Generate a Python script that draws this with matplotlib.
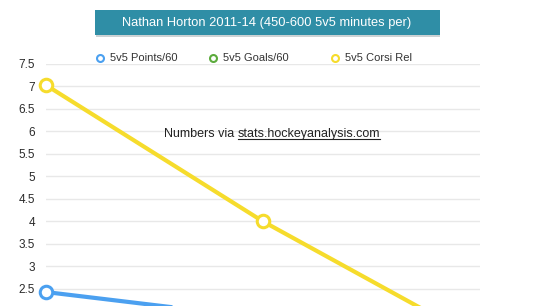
import matplotlib
matplotlib.use('Agg')
import matplotlib.pyplot as plt
from matplotlib.patches import FancyBboxPatch
from matplotlib.lines import Line2D

plt.rcParams['font.family'] = ['Liberation Sans', 'DejaVu Sans']

seasons = ['2011-12', '2012-13', '2013-14']
points_60 = [2.43, 1.85]
corsi_rel = [7.03, 4.0, 1.35]
series_names = ['5v5 Points/60', '5v5 Goals/60', '5v5 Corsi Rel']
y_ticks = [2.5, 3, 3.5, 4, 4.5, 5, 5.5, 6, 6.5, 7, 7.5]

blue = '#4ba0f0'
green = '#5cab3c'
yellow = '#f6dc2c'

W, H = 544, 306
fig = plt.figure(figsize=(W / 100, H / 100), dpi=100)
ax = fig.add_axes([46 / W, 0, 434 / W, 242 / H])

x = list(range(len(seasons)))
ax.plot(x[:len(points_60)], points_60, color=blue, lw=3, marker='o', ms=9,
        mfc='white', mec=blue, mew=2.2, clip_on=False, zorder=3)
ax.plot(x, corsi_rel, color=yellow, lw=3, marker='o', ms=9,
        mfc='white', mec=yellow, mew=2.2, clip_on=False, zorder=3)

ax.set_xlim(0, 2)
ax.set_ylim(2.12, 7.5)
ax.set_yticks(y_ticks)
ax.set_yticklabels([f'{t:g}' for t in y_ticks])
ax.set_xticks([])
ax.grid(axis='y', color='#e8e8e8', lw=1)
ax.set_axisbelow(True)
for s in ax.spines.values():
    s.set_visible(False)
ax.tick_params(axis='y', length=0, pad=8, labelsize=8.5, labelcolor='#2a2a2a')

# title box with a small shadow
fig.patches.append(FancyBboxPatch((96 / W, 1 - 37 / H), 344 / W, 25 / H,
                                  boxstyle='square,pad=0', transform=fig.transFigure,
                                  fc='#9aa6aa', ec='none', alpha=0.5, zorder=1))
fig.patches.append(FancyBboxPatch((95 / W, 1 - 35 / H), 345 / W, 25 / H,
                                  boxstyle='square,pad=0', transform=fig.transFigure,
                                  fc='#2f8ea6', ec='none', zorder=2))
fig.text(267 / W, 1 - 23 / H, 'Nathan Horton 2011-14 (450-600 5v5 minutes per)',
         color='white', fontsize=9.3, ha='center', va='center', zorder=3)

# legend, one entry at a time
for name, c, mx in zip(series_names, (blue, green, yellow), (100, 213, 335)):
    fig.lines.append(Line2D([mx / W], [1 - 58 / H], transform=fig.transFigure,
                            ls='none', marker='o', ms=5, mfc='white', mec=c, mew=1.5))
    fig.text((mx + 10) / W, 1 - 58 / H, name, fontsize=8, va='center',
             color='#333333')

# source note with underlined link
t1 = fig.text(164 / W, 1 - 134 / H, 'Numbers via ', fontsize=9, va='center',
              color='#222222')
fig.canvas.draw()
r = fig.canvas.get_renderer()
bb = t1.get_window_extent(r)
t2 = fig.text(bb.x1 / W, 1 - 134 / H, 'stats.hockeyanalysis.com', fontsize=9,
              va='center', color='#222222')
bb2 = t2.get_window_extent(r)
fig.lines.append(Line2D([bb2.x0 / W, bb2.x1 / W], [(bb2.y0 + 1) / H] * 2,
                        transform=fig.transFigure, color='#222222', lw=0.8))

fig.savefig('out.png', dpi=100)
